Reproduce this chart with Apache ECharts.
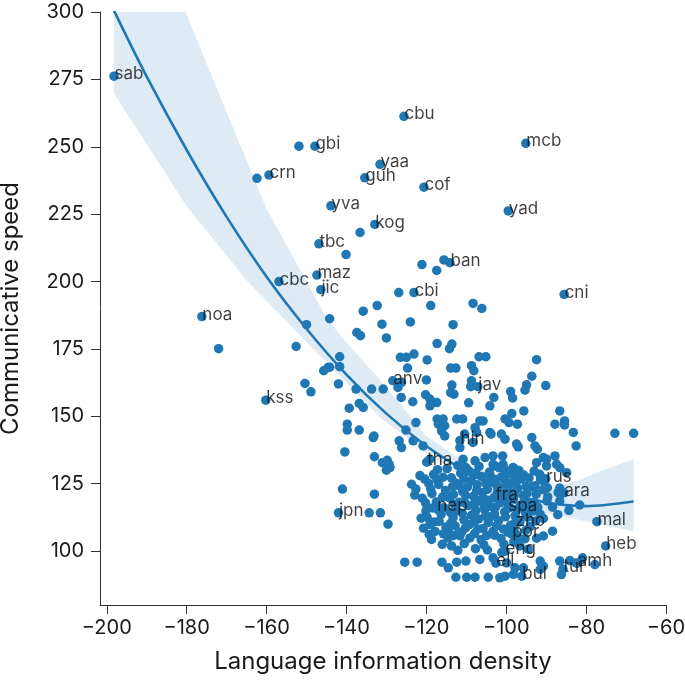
<!DOCTYPE html>
<html>
<head>
<meta charset="utf-8">
<script src="https://cdn.jsdelivr.net/npm/echarts@6/dist/echarts.min.js"></script>
<style>
html,body{margin:0;padding:0;background:#fff;}
#chart{width:685px;height:683px;}
</style>
</head>
<body>
<div id="chart"></div>
<script>
// ---- Labelled languages ----
const labelNames = ['sab','cbu','mcb','gbi','crn','yaa','guh','cof','yad','yva','kog','tbc','cbc','maz','jic','ban','cbi','cni','noa','kss','anv','jav','hin','tha','nep','fra','spa','zho','por','eng','ell','bul','tur','amh','heb','mal','rus','ara','jpn'];
const labelX = [-198.2,-125.6,-95.1,-147.9,-159.4,-131.6,-135.4,-120.6,-99.5,-143.9,-132.9,-146.9,-156.9,-147.4,-146.4,-114.1,-123.1,-85.5,-176.2,-160.2,-128.4,-107.1,-111.6,-119.9,-117.4,-102.8,-99.6,-97.8,-98.6,-100.3,-102.6,-96.1,-85.8,-82.2,-75.1,-77.3,-90.1,-85.6,-142.0];
const labelY = [276.2,261.3,251.3,250.2,239.5,243.5,238.5,235.0,226.2,228.1,221.2,214.0,200.0,202.4,197.0,207.0,195.9,195.2,187.0,156.0,163.2,161.0,141.0,133.0,116.0,120.0,116.0,110.4,106.3,100.0,95.5,90.7,93.3,95.5,101.9,110.9,126.8,121.6,114.2];

// ---- Other (unlabelled) languages: [density, speed] ----
const otherPoints = [
[-151.9,250.2],[-162.4,238.3],[-136.6,218.2],[-140.1,210.0],[-121.1,206.3],[-117.4,204.1],[-115.6,208.0],[-126.9,195.9],[-172.0,175.1],
[-118.9,191.1],[-108.3,191.9],[-106.1,190.0],[-132.3,191.1],[-135.8,189.0],[-144.2,186.2],[-131.1,184.2],[-124.0,185.0],[-113.3,184.0],
[-137.4,181.1],[-136.5,179.9],[-130.0,179.1],[-117.3,177.0],[-113.6,176.8],[-114.2,175.1],[-141.7,172.1],[-126.5,171.9],[-125.0,171.9],[-123.1,173.1],[-119.8,170.9],[-106.8,172.1],[-105.1,172.1],[-92.4,171.0],
[-144.2,168.2],[-141.7,168.4],[-124.7,167.9],[-113.9,167.9],[-112.6,167.9],[-108.7,168.8],[-108.1,166.9],[-93.6,164.9],
[-120.0,163.5],[-127.1,160.7],[-126.2,162.6],[-142.0,162.0],[-137.6,160.1],[-133.7,160.1],[-130.8,160.1],[-113.6,161.6],[-113.9,158.8],[-113.1,158.2],[-108.7,163.2],[-108.9,161.0],
[-94.9,161.7],[-95.3,159.7],[-90.1,161.4],[-103.1,157.0],[-98.9,159.2],[-98.4,156.8],[-126.3,157.0],[-123.4,155.4],[-120.2,158.0],[-119.1,156.4],[-119.1,153.9],[-117.4,155.1],[-109.4,155.0],
[-139.3,153.0],[-136.8,154.8],[-135.8,153.3],[-104.1,153.9],[-95.6,152.0],[-86.6,152.0],[-98.6,151.0],[-100.3,149.0],[-99.3,147.7],[-97.2,147.1],[-87.8,147.1],[-85.4,148.3],[-85.4,146.8],[-83.2,144.0],
[-122.6,147.7],[-117.3,149.0],[-115.8,149.0],[-117.0,147.1],[-115.4,146.5],[-112.4,149.0],[-110.9,149.0],[-106.6,148.3],[-105.8,148.3],[-107.8,145.8],
[-139.8,147.1],[-139.8,144.9],[-136.8,144.9],[-125.1,144.9],[-133.1,142.7],[-116.2,144.6],[-115.4,142.7],[-104.1,144.0],[-101.2,143.4],[-100.3,141.5],[-97.4,139.7],[-97.0,138.7],[-93.6,142.1],[-92.8,139.0],[-92.2,137.8],[-82.5,139.0],
[-72.8,143.7],[-68.1,143.7],
[-150.0,184.0],[-152.6,175.9],[-144.6,168.1],[-145.7,166.9],[-150.4,162.2],[-148.9,159.1],[-133.0,135.0],
[-123.3,140.9],[-120.8,139.0],[-126.8,140.9],[-126.2,138.4],[-119.1,134.1],[-117.4,126.7],[-121.6,128.0],[-120.4,126.7],[-123.7,124.8],[-122.6,123.0],[-122.9,120.8],[-141.0,123.0],[-133.0,121.1],[-134.3,114.2],[-131.5,114.2],[-129.6,110.0],[-120.1,114.9],[-119.1,109.9],[-119.3,106.2],[-140.4,136.8],[-133.3,142.1],[-131.0,132.8],[-129.8,133.7],[-129.1,131.0],[-130.0,130.0],[-129.3,132.2],
[-125.4,95.9],[-122.3,95.9],[-116.1,95.9],[-114.5,93.8],[-112.4,95.9],[-112.6,90.3],[-109.9,90.3],[-113.7,101.9],[-114.5,107.6],[-113.3,105.7],[-111.6,105.7],
[-110.1,96.3],[-106.6,96.9],[-103.3,97.5],[-99.9,95.6],[-107.8,90.3],[-104.5,90.3],[-101.6,90.1],[-100.3,90.7],[-97.8,93.8],[-98.2,91.4],[-95.7,93.8],[-91.5,96.3],[-91.5,93.2],[-90.7,94.4],[-86.6,96.3],[-82.5,95.6],[-80.9,97.5],[-77.8,95.0],
[-96.6,101.9],[-94.5,100.7],[-101.1,99.5],[-88.4,107.4],[-90.7,105.6],[-92.4,104.8],[-95.3,104.6],[-93.2,114.9],[-90.7,112.1],[-94.7,117.4],[-84.3,115.1],[-81.6,117.1],[-89.8,118.6],[-86.6,118.6],[-87.0,121.7],[-92.8,124.2],[-91.6,128.5],[-90.7,126.0],[-89.7,123.5],[-84.9,129.1],[-92.4,132.8],[-89.9,134.1],[-87.8,135.3],[-87.4,132.2],[-86.6,131.0],[-98.3,131.0],[-97.8,127.9],[-105.3,134.7],[-103.3,135.3],[-100.9,135.3],[-100.8,132.2],[-103.3,132.2],[-108.3,140.3],[-110.8,134.1],[-107.8,133.5],[-110.1,131.0],[-110.4,143.4],[-107.4,144.0],[-111.6,138.4],[-103.8,143.4],[-90.7,134.7],[-89.9,131.6],[-86.6,123.4],[-86.2,121.4],[-84.1,96.5],[-86.2,91.3],
[-118.2,128.4],[-116.9,124.7],[-118.6,121.3],[-117.5,118.2],[-116.3,113.6],[-118.0,110.8],[-115.1,108.9],
[-114.8,130.6],[-113.7,127.2],[-115.2,122.5],[-114.1,119.6],[-115.6,116.1],[-113.3,112.4],[-114.6,104.9],[-112.8,109.4],
[-112.1,131.8],[-111.4,128.9],[-112.6,125.3],[-110.9,122.1],[-111.8,118.1],[-112.4,114.9],[-110.6,111.6],[-111.1,107.2],
[-109.3,129.6],[-108.8,126.1],[-109.7,123.8],[-108.2,120.3],[-109.5,116.9],[-108.7,113.3],[-109.2,109.8],[-107.9,106.5],
[-106.8,131.4],[-106.1,127.7],[-107.3,124.6],[-105.9,121.7],[-106.6,118.9],[-105.4,115.4],[-106.9,111.9],[-105.8,108.4],[-106.3,104.2],
[-104.2,129.3],[-103.6,125.8],[-104.7,122.9],[-103.2,119.7],[-104.1,116.6],[-102.9,113.8],[-104.5,110.6],[-103.3,107.3],
[-101.7,130.9],[-101.2,127.5],[-102.2,124.1],[-100.8,121.2],[-101.6,117.9],[-100.4,114.6],[-101.9,111.3],[-100.7,108.2],[-101.3,104.7],
[-99.3,128.8],[-98.7,125.4],[-99.6,122.6],[-98.2,119.3],[-99.1,116.1],[-97.8,113.1],[-98.9,109.6],[-97.6,106.4],
[-96.8,129.9],[-96.2,126.7],[-97.1,123.3],[-95.7,120.6],[-96.4,117.0],[-95.2,114.2],[-96.6,110.8],[-95.1,107.7],
[-94.3,127.1],[-93.6,123.9],[-94.8,121.4],[-92.9,118.1],[-93.8,115.6],[-92.6,111.2],
[-91.4,126.6],[-90.8,122.8],[-89.6,120.1],[-88.4,116.3],[-87.1,113.5],
[-119.4,125.1],[-120.2,117.9],[-119.8,112.5],[-117.8,107.3],
[-115.8,127.4],[-113.2,121.0],[-110.3,117.8],[-107.6,115.0],[-102.5,120.8],[-100.1,118.6],[-97.4,111.9],[-103.9,127.6],[-108.1,128.3],[-111.7,124.2],[-105.2,113.0],[-99.9,124.1],
[-117.2,130.2],[-115.9,120.1],[-117.1,115.4],[-116.8,111.0],[-115.7,106.4],
[-113.4,124.0],[-112.9,117.3],[-114.0,114.4],[-113.9,110.3],[-112.3,106.2],
[-110.6,126.9],[-110.2,120.7],[-111.0,114.0],[-110.2,108.6],[-109.1,104.9],
[-107.6,129.0],[-107.4,122.4],[-107.9,117.6],[-108.0,111.0],[-107.1,108.2],
[-105.1,125.1],[-104.9,119.0],[-105.6,117.1],[-104.0,112.7],[-104.9,105.8],
[-102.8,131.6],[-102.6,126.6],[-102.1,122.3],[-102.7,116.3],[-102.4,109.4],[-102.9,105.9],
[-100.1,129.9],[-100.3,126.1],[-99.8,120.3],[-100.2,112.7],[-99.6,107.0],
[-97.9,130.5],[-97.7,124.9],[-98.0,121.6],[-97.3,115.5],[-98.1,108.0],[-96.9,104.8],
[-95.6,128.2],[-95.0,124.0],[-95.4,118.8],[-94.6,112.6],[-94.0,109.1],
[-93.0,129.7],[-92.5,121.1],[-92.1,116.3],[-91.5,113.7],
[-118.9,123.0],[-118.4,116.0],[-121.0,119.6],[-121.3,112.2],[-120.7,108.5],[-118.7,104.3],
[-116.0,102.5],[-110.5,102.8],[-105.6,102.3],[-100.6,102.6],[-98.1,103.4],
[-104.7,100.4],[-107.7,100.9],[-112.1,100.3]
];

// ---- Fitted trend line and its confidence band ----
const fitX  = [-198.2,-190,-180,-170,-160,-150,-140,-130,-120,-110,-100,-90,-80,-68.1];
const fitY  = [300.5,276.0,248.8,224.0,201.8,182.5,165.5,151.0,139.0,129.5,122.0,118.0,116.7,118.4];
const bandX  = [-198.2,-190,-180,-172,-165,-160,-150,-145,-140,-131.6,-125,-120,-111.6,-100,-90,-81.6,-75,-68.1];
const bandHi = [364,335,299,270,245,227,200,186.5,177.4,163.5,151.7,142.7,134,125,122.5,126.5,130.5,134.2];
const bandLo = [269.9,250.9,227.8,213.4,200.4,192.8,177.6,170,162.4,149.6,142.3,136.3,128,119.5,114,111.5,109.5,107.4];

// ---- Axis ticks ----
const xTicks = [-200,-180,-160,-140,-120,-100,-80,-60];
const yTicks = [100,125,150,175,200,225,250,275,300];

const FONT = 'Inter, Roboto, "Noto Sans", sans-serif';
const BLUE = '#1f77b4';
const minus = v => String(v).replace('-', '\u2212');

const allPoints = otherPoints.concat(labelX.map((x, i) => [x, labelY[i]]));
const labelData = labelNames.map((n, i) => ({ value: [labelX[i], labelY[i]], name: n }));
const fitData = fitX.map((x, i) => [x, fitY[i]]);

const chart = echarts.init(document.getElementById('chart'), null, { renderer: 'canvas' });
chart.setOption({
  animation: false,
  backgroundColor: '#ffffff',
  grid: { left: 100, right: 19, top: 12, bottom: 78, containLabel: false, outerBoundsMode: 'none' },
  xAxis: {
    type: 'value', min: -201.7, max: -60,
    name: 'Language information density', nameLocation: 'middle', nameGap: 45,
    nameTextStyle: { fontSize: 24, color: '#1a1a1a', fontFamily: FONT },
    axisLine: { show: true, onZero: false, lineStyle: { color: '#333', width: 1 } },
    axisTick: { show: true, length: 9, customValues: xTicks, lineStyle: { color: '#333' } },
    axisLabel: { customValues: xTicks, formatter: minus, fontSize: 20, color: '#1a1a1a', margin: 13, fontFamily: FONT },
    splitLine: { show: false }
  },
  yAxis: {
    type: 'value', min: 80, max: 300,
    name: 'Communicative speed', nameLocation: 'middle', nameGap: 77,
    nameTextStyle: { fontSize: 24, color: '#1a1a1a', fontFamily: FONT },
    axisLine: { show: true, onZero: false, lineStyle: { color: '#333', width: 1 } },
    axisTick: { show: true, length: 9, customValues: yTicks, lineStyle: { color: '#333' } },
    axisLabel: { customValues: yTicks, fontSize: 20, color: '#1a1a1a', margin: 16, fontFamily: FONT },
    splitLine: { show: false }
  },
  series: [
    {
      type: 'scatter', z: 2, data: allPoints, symbolSize: 9.5,
      itemStyle: { color: BLUE, opacity: 1 }, silent: true
    },
    {
      type: 'custom', z: 3, clip: true, silent: true, data: [0],
      renderItem: function (params, api) {
        const pts = [];
        for (let i = 0; i < bandX.length; i++) pts.push(api.coord([bandX[i], bandHi[i]]));
        for (let i = bandX.length - 1; i >= 0; i--) pts.push(api.coord([bandX[i], bandLo[i]]));
        return { type: 'polygon', shape: { points: pts }, style: { fill: 'rgba(31,119,180,0.15)', stroke: null } };
      }
    },
    {
      type: 'line', z: 4, data: fitData, smooth: 0.3, showSymbol: false, symbol: 'none',
      lineStyle: { color: BLUE, width: 2.6 }, silent: true
    },
    {
      type: 'scatter', z: 5, data: labelData, symbolSize: 1,
      itemStyle: { color: 'rgba(0,0,0,0)' }, silent: true,
      label: {
        show: true, formatter: p => p.name, position: [1, 7], align: 'left', verticalAlign: 'bottom',
        fontSize: 17, color: '#111', fontFamily: FONT
      }
    }
  ]
});
</script>
</body>
</html>
